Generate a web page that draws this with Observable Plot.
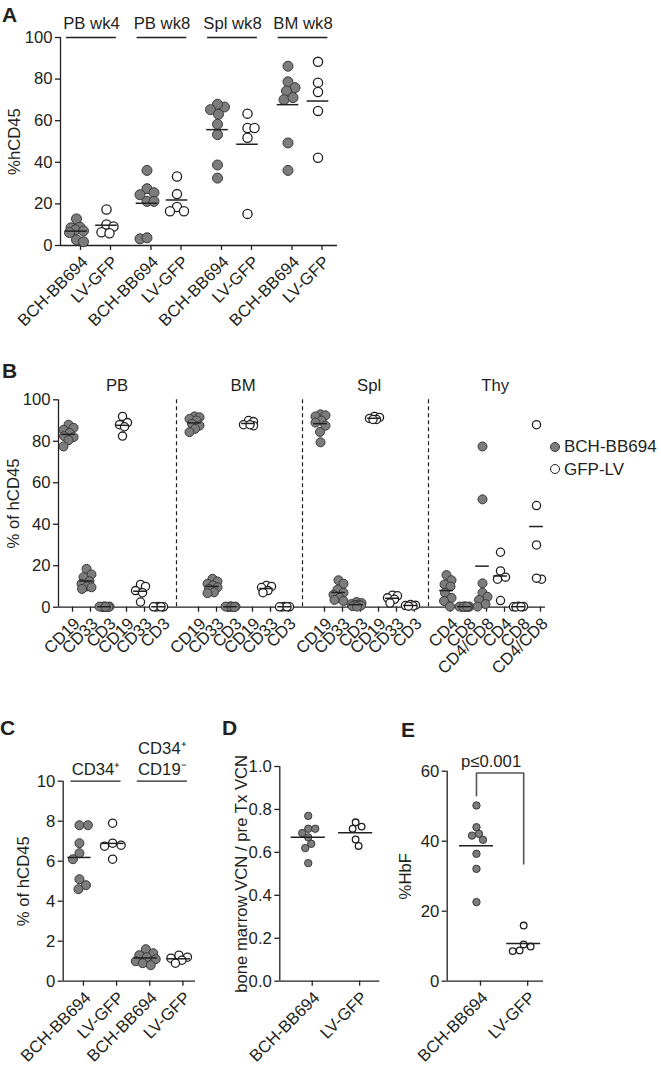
<!DOCTYPE html>
<html><head><meta charset="utf-8">
<script src="https://cdn.jsdelivr.net/npm/d3@7"></script>
<script src="https://cdn.jsdelivr.net/npm/@observablehq/plot@0.6"></script>
<style>
body{margin:0;background:#fff;}
#fig{position:relative;width:661px;height:1067px;font-family:"Liberation Sans",Arial,sans-serif;color:#231f20;overflow:hidden;}
.panel{position:absolute;}
.letter{position:absolute;font-weight:bold;font-size:21px;line-height:1;}
.leg{position:absolute;font-size:17px;line-height:1;white-space:nowrap;display:flex;align-items:center;}
.leg i{display:inline-block;width:8px;height:8px;border-radius:50%;margin-right:4px;box-sizing:content-box;}
</style></head><body><div id="fig"></div>
<script>
// ---------- DATA ----------
const constructs = ["BCH-BB694", "LV-GFP"];
// Panel A
const aGroups = ["PB wk4", "PB wk8", "Spl wk8", "BM wk8"];
const aBCH = [
  [12.8, 8.8, 8.5, 7.5, 7.0, 6.2, 2.7, 1.8],
  [36.1, 27.3, 25.4, 24.4, 21.2, 21.2, 3.2, 3.7],
  [66.6, 67.9, 65.3, 63.1, 58.3, 53.3, 38.7, 32.4],
  [86.2, 78.7, 75.9, 74.3, 70.1, 71.1, 49.3, 36.1]
];
const aGFP = [
  [17.3, 10.1, 9.1, 6.4, 5.9],
  [33.2, 24.7, 18.5, 16.5, 16.5],
  [63.4, 56.5, 56.5, 51.8, 15.2],
  [88.3, 78.3, 73.8, 64.7, 42.2]
];
// Panel B
const bTissues = ["PB", "BM", "Spl", "Thy"];
const bMarkers = [["CD19", "CD33", "CD3"], ["CD19", "CD33", "CD3"], ["CD19", "CD33", "CD3"], ["CD4", "CD8", "CD4/CD8"]];
const bLegend = ["BCH-BB694", "GFP-LV"];
const bBCH = [
  [[88, 86.5, 85.5, 84, 82.5, 82, 80.5, 77.5], [18.5, 15.8, 14.5, 12.5, 11.3, 10, 9.6, 8.8], [0.3, 0.2, 0.1, 0.4, 0.2, 0.3, 0.1, 0.2]],
  [[92, 91.6, 90.8, 90, 88.4, 87.6, 86, 84.4], [13.7, 12.4, 11.3, 10.5, 9.6, 8.8, 7.2, 6.8], [0.3, 0.2, 0.4, 0.1, 0.2, 0.3, 0.2, 0.1]],
  [[93, 92.5, 92, 90, 89, 87.5, 84.5, 79.5], [13, 11.3, 8.5, 7, 6, 4.5, 3.5, 3], [2.5, 2, 1.5, 1.2, 1, 0.8, 0.5, 0.3]],
  [[15.5, 13, 11, 10, 7, 4.5, 3, 0.3], [0.3, 0.2, 0.4, 0.2, 0.3, 0.1, 0.2, 0.3], [77.5, 52, 11.5, 7, 5, 3.5, 1.5, 0.3]]
];
const bGFP = [
  [[92, 89, 88, 87, 82.5], [11, 10, 8, 7, 2.5], [0.2, 0.3, 0.1, 0.2, 0.2]],
  [[90, 89.5, 88, 87.5, 88], [10.5, 10, 9.5, 8, 7], [0.2, 0.3, 0.1, 0.2, 0.2]],
  [[92, 91.5, 91, 90.5, 90.5], [5.8, 5.5, 4.5, 3.8, 2], [1.3, 1, 0.8, 0.6, 0.5]],
  [[26.5, 17.5, 14.5, 13.5, 3.2], [0.3, 0.2, 0.4, 0.1, 0.2], [88, 49, 30, 13.5, 14]]
];
// Panel C
const cGroups = ["CD34⁺", "CD34⁺\nCD19⁻"];
const cBCH = [[7.8, 7.8, 6.9, 6.4, 6.1, 5.1, 4.8, 4.6], [1.6, 1.4, 1.3, 1.2, 1.1, 1.0, 0.9, 0.8]];
const cGFP = [[7.9, 6.9, 6.8, 6.75, 6.1], [1.3, 1.2, 1.15, 1.05, 0.9]];
// Panel D
const dBCH = [0.77, 0.71, 0.71, 0.69, 0.67, 0.64, 0.62, 0.55];
const dGFP = [0.74, 0.72, 0.71, 0.66, 0.63];
// Panel E
const eBCH = [50.2, 44, 42.1, 41.6, 40.4, 36.4, 32.1, 22.6];
const eGFP = [15.9, 10.5, 9.9, 8.8, 8.6];
const ePLabel = "p≤0.001";
const eBracketTop = 59.5;
const eBracketEnds = [53, 33.5];

// ---------- HELPERS ----------
const FONT = '"Liberation Sans", Arial, sans-serif';
const FS = 16.7;
const INK = "#231f20";
const fig = document.getElementById("fig");

function swarm(vals, yS, sep, cap) {
  const order = d3.range(vals.length).sort((a, b) => vals[b] - vals[a]);
  const placed = [];
  const off = new Array(vals.length).fill(0);
  let flip = 1;
  for (const i of order) {
    const y = yS(vals[i]);
    let best = 0, bestD = -1, done = false;
    for (let s = 0; s <= cap && !done; s += 0.5) {
      for (const sg of (s === 0 ? [1] : [flip, -flip])) {
        const o = sg * s;
        let md = Infinity;
        for (const p of placed) md = Math.min(md, Math.hypot(p.o - o, p.y - y));
        if (md >= sep) { best = o; done = true; break; }
        if (md > bestD + 0.01) { bestD = md; best = o; }
      }
    }
    placed.push({o: best, y});
    off[i] = best;
    if (best !== 0) flip = -Math.sign(best);
  }
  return off;
}

function panel({left, top, width, height, mt, mb, ml, mr, xdom, ydom, yticks, yfmt, ylabel, yLabelOffset,
                xticks, xlabels, points, r, sep, cap, hw, extra = []}) {
  const yS = d3.scaleLinear(ydom, [height - mb, mt]);
  const kx = (width - ml - mr) / (xdom[1] - xdom[0]);
  const groups = d3.group(points, d => d.key);
  for (const [, g] of groups) {
    const offs = swarm(g.map(d => d.v), yS, sep, cap);
    g.forEach((d, i) => d.xs = d.x + offs[i] / kx);
  }
  const means = Array.from(groups, ([, g]) => ({x: g[0].x, m: d3.mean(g, d => d.v)}));
  const labelMap = new Map(xticks.map((t, i) => [t, xlabels[i]]));
  const chart = Plot.plot({
    width, height, marginTop: mt, marginBottom: mb, marginLeft: ml, marginRight: mr,
    style: {fontFamily: FONT, fontSize: FS + "px", color: INK, background: "transparent", overflow: "visible"},
    x: {domain: xdom},
    y: {domain: ydom},
    marks: [
      ...extra,
      Plot.ruleX([xdom[0]], {stroke: INK, strokeWidth: 1.3}),
      Plot.ruleY([ydom[0]], {stroke: INK, strokeWidth: 1.3}),
      Plot.axisY({ticks: yticks, tickFormat: yfmt, tickSize: 5, tickPadding: 3, strokeWidth: 1.3,
        label: ylabel, labelAnchor: "center", labelArrow: "none", labelOffset: yLabelOffset}),
      Plot.axisX({ticks: xticks, tickFormat: d => labelMap.get(d), tickSize: 5, strokeWidth: 1.3,
        tickRotate: -45, textAnchor: "end", lineAnchor: "top", tickPadding: 4, dx: 4, label: null}),
      Plot.dot(points.filter(d => d.c === 0), {x: "xs", y: "v", r, fill: "#7c7c7c", stroke: "#3a3a3a", strokeWidth: 1}),
      Plot.dot(points.filter(d => d.c === 1), {x: "xs", y: "v", r: r - 0.4, fill: "#fff", stroke: INK, strokeWidth: 1.3}),
      Plot.ruleY(means, {y: "m", x1: d => d.x - hw, x2: d => d.x + hw, stroke: INK, strokeWidth: 1.5})
    ]
  });
  chart.classList.add("panel");
  chart.style.left = left + "px";
  chart.style.top = top + "px";
  chart.style.position = "absolute";
  fig.appendChild(chart);
}

function letter(t, left, top) {
  const d = document.createElement("div");
  d.className = "letter"; d.textContent = t;
  d.style.left = left + "px"; d.style.top = top + "px";
  fig.appendChild(d);
}

// ---------- PANEL A ----------
{
  const G = 2.35;
  const pts = [];
  aGroups.forEach((g, gi) => [aBCH[gi], aGFP[gi]].forEach((vals, c) =>
    vals.forEach(v => pts.push({key: gi + "-" + c, x: gi * G + c, c, v}))));
  const xticks = [], xlabels = [];
  aGroups.forEach((g, gi) => constructs.forEach((lab, c) => { xticks.push(gi * G + c); xlabels.push(lab); }));
  const hdr = aGroups.map((g, gi) => ({g, cx: gi * G + 0.5}));
  panel({left: 0, top: 0, width: 345, height: 340, mt: 37, mb: 95, ml: 60, mr: 8,
    xdom: [-0.533, 8.7], ydom: [0, 100], yticks: d3.range(0, 101, 20), yfmt: d3.format("d"),
    ylabel: "%hCD45", yLabelOffset: 52, xticks, xlabels, points: pts, r: 5, sep: 9, cap: 7, hw: 0.36,
    extra: [
      Plot.ruleY(hdr, {y: 100, x1: d => d.cx - 0.83, x2: d => d.cx + 0.83, stroke: INK, strokeWidth: 1.3}),
      Plot.text(hdr, {x: "cx", y: 100, dy: -14, text: "g", lineAnchor: "middle", fontSize: FS, fill: INK})
    ]});
  letter("A", 2, 4);
}

// ---------- PANEL B ----------
{
  const G = 7;
  const pts = [];
  const xticks = [], xlabels = [];
  bTissues.forEach((t, ti) => [bBCH[ti], bGFP[ti]].forEach((sets, c) => sets.forEach((vals, mi) => {
    const x = ti * G + c * 3 + mi;
    xticks.push(x); xlabels.push(bMarkers[ti][mi]);
    vals.forEach(v => pts.push({key: ti + "-" + c + "-" + mi, x, c, v}));
  })));
  panel({left: 0, top: 370, width: 550, height: 300, mt: 29.3, mb: 63.3, ml: 58, mr: 5,
    xdom: [-0.556, 26.5], ydom: [0, 100], yticks: d3.range(0, 101, 20), yfmt: d3.format("d"),
    ylabel: "% of hCD45", yLabelOffset: 51, xticks, xlabels, points: pts, r: 4.5, sep: 8, cap: 5, hw: 0.38,
    extra: [
      Plot.ruleX(bTissues.slice(0, 3), {x: (d, i) => i * G + 6, stroke: INK, strokeWidth: 1.2, strokeDasharray: "4,3"}),
      Plot.text(bTissues, {x: (d, i) => i * G + 2.7, y: 100, dy: -14, text: d => d, lineAnchor: "middle", fontSize: FS, fill: INK})
    ]});
  letter("B", 2, 360);
  // legend
  const styles = [
    {bg: "#7c7c7c", bd: "1px solid #3a3a3a"},
    {bg: "#fff", bd: "1.3px solid " + INK}
  ];
  bLegend.forEach((lab, i) => {
    const d = document.createElement("div");
    d.className = "leg";
    d.style.left = "550px";
    d.style.top = (438 + i * 22.6) + "px";
    d.style.height = "17px";
    const dot = document.createElement("i");
    dot.style.background = styles[i].bg; dot.style.border = styles[i].bd;
    d.appendChild(dot);
    d.appendChild(document.createTextNode(lab));
    fig.appendChild(d);
  });
}

// ---------- PANEL C ----------
{
  const pts = [];
  const xticks = [], xlabels = [];
  cGroups.forEach((g, gi) => [cBCH[gi], cGFP[gi]].forEach((vals, c) => {
    const x = gi * 2 + c;
    xticks.push(x); xlabels.push(constructs[c]);
    vals.forEach(v => pts.push({key: gi + "-" + c, x, c, v}));
  }));
  const hdr = cGroups.map((g, gi) => ({g, cx: gi * 2 + 0.5}));
  panel({left: 0, top: 730, width: 200, height: 337, mt: 50.7, mb: 86.3, ml: 62.7, mr: 5,
    xdom: [-0.49, 3.5], ydom: [0, 10], yticks: d3.range(0, 11, 2), yfmt: d3.format("d"),
    ylabel: "% of hCD45", yLabelOffset: 45.7, xticks, xlabels, points: pts, r: 4.5, sep: 8.5, cap: 10, hw: 0.35,
    extra: [
      Plot.ruleY(hdr, {y: 10, x1: d => d.cx - 0.755, x2: d => d.cx + 0.755, stroke: INK, strokeWidth: 1.3}),
      Plot.text(hdr, {x: "cx", y: 10, dy: -6, text: "g", lineAnchor: "bottom", lineHeight: 1.25, fontSize: FS, fill: INK})
    ]});
  letter("C", 0, 717);
}

// ---------- PANEL D ----------
{
  const pts = [];
  [dBCH, dGFP].forEach((vals, c) => vals.forEach(v => pts.push({key: "" + c, x: c, c, v})));
  panel({left: 215, top: 730, width: 170, height: 337, mt: 36, mb: 86.3, ml: 64.3, mr: 5.7,
    xdom: [-0.6, 1.51], ydom: [0, 1], yticks: d3.range(0, 1.01, 0.2), yfmt: d3.format(".1f"),
    ylabel: "bone marrow VCN / pre Tx VCN", yLabelOffset: 44.5, xticks: [0, 1], xlabels: constructs,
    points: pts, r: 3.7, sep: 7, cap: 8, hw: 0.36});
  letter("D", 222, 717);
}

// ---------- PANEL E ----------
{
  const pts = [];
  [eBCH, eGFP].forEach((vals, c) => vals.forEach(v => pts.push({key: "" + c, x: c, c, v})));
  const bracket = [
    {x: 0, y: eBracketEnds[0]}, {x: 0, y: eBracketTop},
    {x: 1, y: eBracketTop}, {x: 1, y: eBracketEnds[1]}
  ];
  panel({left: 390, top: 730, width: 160, height: 337, mt: 40.7, mb: 86.3, ml: 56.7, mr: 7,
    xdom: [-0.62, 1.42], ydom: [0, 60], yticks: d3.range(0, 61, 20), yfmt: d3.format("d"),
    ylabel: "%HbF", yLabelOffset: 48.4, xticks: [0, 1], xlabels: constructs,
    points: pts, r: 3.7, sep: 7, cap: 11, hw: 0.36,
    extra: [
      Plot.line(bracket, {x: "x", y: "y", stroke: "#555", strokeWidth: 1.6}),
      Plot.text([ePLabel], {x: 0.5, y: eBracketTop, dx: -9, dy: -6, text: d => d, lineAnchor: "bottom", fontSize: FS, fill: INK})
    ]});
  letter("E", 401, 719);
}
</script></body></html>
